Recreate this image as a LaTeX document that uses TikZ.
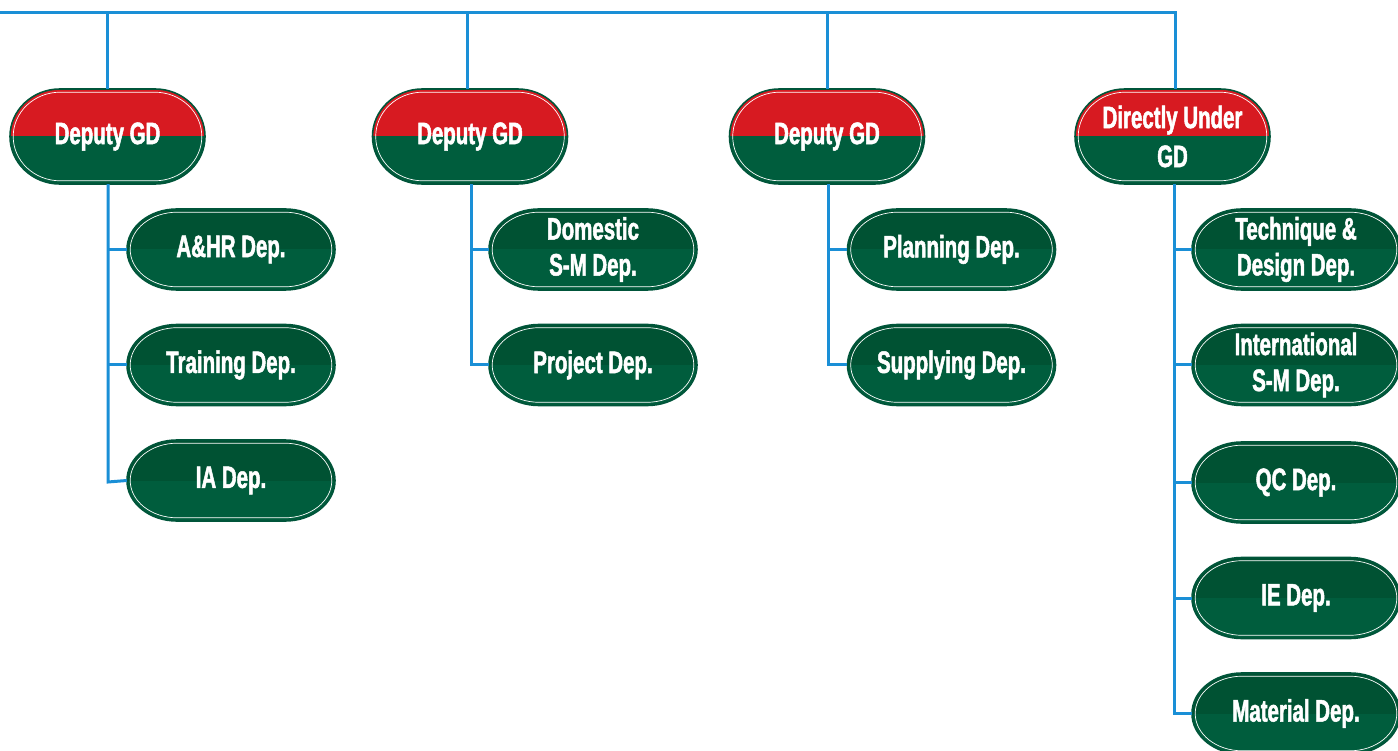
\documentclass[tikz,border=0pt]{standalone}
\usepackage{fontspec}
\setmainfont{Liberation Sans}[FakeStretch=0.66,BoldFeatures={FakeBold=1.6}]
\begin{document}
\definecolor{linkblue}{HTML}{1A8FD6}
\definecolor{gdred}{HTML}{D71A21}
\definecolor{gdgreen}{HTML}{005D3D}
\definecolor{depdark}{HTML}{005233}
\definecolor{rimgreen}{HTML}{00553A}
% outline of a pill with elliptical ends: half width #1, half height #2, corner x radius #3
\newcommand\pillpath[3]{%
  ({-(#1)},0) arc[start angle=180,end angle=90,x radius={#3},y radius={#2}]
  -- ({(#1)-(#3)},{#2}) arc[start angle=90,end angle=0,x radius={#3},y radius={#2}]
  arc[start angle=0,end angle=-90,x radius={#3},y radius={#2}]
  -- ({-(#1)+(#3)},{-(#2)}) arc[start angle=270,end angle=180,x radius={#3},y radius={#2}] -- cycle}
% box: centre x, centre y (pixels, down), half width, half height, top colour, bottom colour, name, style, text
\newcommand\orgbox[9]{%
  \begin{scope}[shift={(#1,-#2)}]
    \begin{scope}
      \clip \pillpath{#3}{#4}{50};
      \fill[#5] ({-(#3)-1},-0.5) rectangle ({#3+1},{#4+1});
      \fill[#6] ({-(#3)-1},{-(#4)-1}) rectangle ({#3+1},0);
    \end{scope}
    \draw[rimgreen,line width=1.6pt] \pillpath{#3}{#4}{50};
    \draw[white,line width=0.7pt] \pillpath{#3-3.2}{#4-3.2}{47};
  \end{scope}
  \node[#8,minimum width=2*#3,minimum height=2*#4] (#7) at (#1,-#2) {#9};
}
\begin{tikzpicture}[x=1pt,y=1pt,
  link/.style={draw=linkblue,line width=3pt},
  toptext/.style={text=white,font=\fontsize{31}{39}\selectfont\bfseries,align=center,inner sep=0pt},
  deptext/.style={text=white,font=\fontsize{31}{36}\selectfont\bfseries,align=center,inner sep=0pt}]
\useasboundingbox (0,0) rectangle (1398,-751);

% heads
\orgbox{107.5}{136.5}{97.5}{47.5}{gdred}{gdgreen}{g1}{toptext}{Deputy GD}
\orgbox{470}{136.5}{97.5}{47.5}{gdred}{gdgreen}{g2}{toptext}{Deputy GD}
\orgbox{827}{136.5}{97.5}{47.5}{gdred}{gdgreen}{g3}{toptext}{Deputy GD}
\orgbox{1172.5}{136.5}{97.5}{47.5}{gdred}{gdgreen}{g4}{toptext}{Directly Under\\GD}

% departments
\orgbox{231}{249.5}{104}{40.5}{depdark}{gdgreen}{d11}{deptext}{A\&HR Dep.}
\orgbox{231}{365}{104}{40.5}{depdark}{gdgreen}{d12}{deptext}{Training Dep.}
\orgbox{231}{480.5}{104}{40.5}{depdark}{gdgreen}{d13}{deptext}{IA Dep.}

\orgbox{593}{249.5}{104}{40.5}{depdark}{gdgreen}{d21}{deptext}{Domestic\\S-M Dep.}
\orgbox{593}{365}{104}{40.5}{depdark}{gdgreen}{d22}{deptext}{Project Dep.}

\orgbox{951.5}{249.5}{104}{40.5}{depdark}{gdgreen}{d31}{deptext}{Planning Dep.}
\orgbox{951.5}{365}{104}{40.5}{depdark}{gdgreen}{d32}{deptext}{Supplying Dep.}

\orgbox{1296}{249.5}{104}{40.5}{depdark}{gdgreen}{d41}{deptext}{Technique \&\\Design Dep.}
\orgbox{1296}{365}{104}{40.5}{depdark}{gdgreen}{d42}{deptext}{International\\S-M Dep.}
\orgbox{1296}{482.5}{104}{40.5}{depdark}{gdgreen}{d43}{deptext}{QC Dep.}
\orgbox{1296}{598}{104}{40.5}{depdark}{gdgreen}{d44}{deptext}{IE Dep.}
\orgbox{1296}{713.5}{104}{40.5}{depdark}{gdgreen}{d45}{deptext}{Material Dep.}

% top bus and drops to the heads
\coordinate (busL) at (0,-13);
\coordinate (busR) at (1175,-13);
\draw[link] (busL) -- (busR) -- (busR |- g4.north);
\draw[link] (g1.north) -- (g1.north |- busL);
\draw[link] (g2.north -| 467,0) -- (467,-13);
\draw[link] (g3.north) -- (g3.north |- busL);

% branch lines
\draw[link] (g1.south -| 108,0) -- (108,-482) -- (d13.west);
\draw[link] (108,-249.5) -- (d11.west);
\draw[link] (108,-365) -- (d12.west);

\draw[link] (g2.south -| 471,0) -- (471,-365) -- (d22.west);
\draw[link] (471,-249.5) -- (d21.west);

\draw[link] (g3.south -| 828,0) -- (828,-365) -- (d32.west);
\draw[link] (828,-249.5) -- (d31.west);

\draw[link] (g4.south -| 1174,0) -- (1174,-713.5) -- (d45.west);
\draw[link] (1174,-249.5) -- (d41.west);
\draw[link] (1174,-365) -- (d42.west);
\draw[link] (1174,-482.5) -- (d43.west);
\draw[link] (1174,-598) -- (d44.west);
\end{tikzpicture}
\end{document}
